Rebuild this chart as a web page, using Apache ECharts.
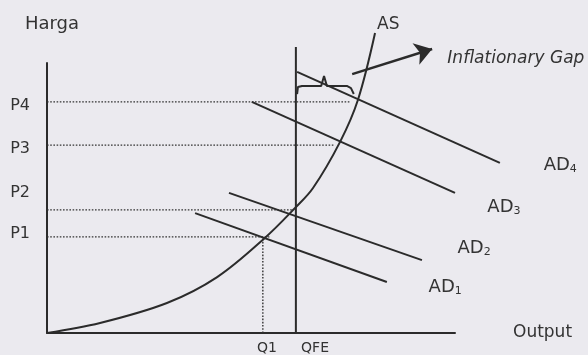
<!DOCTYPE html>
<html>
<head>
<meta charset="utf-8">
<script src="https://cdn.jsdelivr.net/npm/echarts@6/dist/echarts.min.js"></script>
<style>
  html, body { margin: 0; padding: 0; background: #ebeaef; }
  #main { width: 588px; height: 355px; }
</style>
</head>
<body>
<div id="main"></div>
<script>
// 价格水平 (P1..P4) 与产出 (Q1, QFE)
var priceNames = ['P1', 'P2', 'P3', 'P4'];
var priceLevels = [35.6, 45.6, 69.6, 85.6];
var priceDotEnd = [54.7, 60.0, 70.6, 74.5];
var priceLabelAt = [36.7, 51.9, 68.1, 84.1];

var outputNames = ['Q1', 'QFE'];
var outputLabelAt = [53.9, 65.7];
var q1Output = 52.9;
var qfeOutput = 61.0;
var qfeTop = 105.9;

// 总供给曲线 AS
var asCurve = [
    [0, 0], [13, 3.7], [29.4, 11.1], [41.7, 20.7], [53.4, 35.2],
    [60.8, 46.3], [65.2, 53.7], [71.8, 70.7], [76.2, 86.3], [80.4, 111.1]
];

// 总需求曲线 AD1..AD4 (起点, 终点)
var adNames = ['1', '2', '3', '4'];
var adLines = [
    [[36.3, 44.4], [83.3, 18.9]],
    [[44.6, 51.9], [91.9, 27.0]],
    [[50.2, 85.6], [100, 51.9]],
    [[61.3, 96.7], [111, 63]]
];
var adLabelAt = [[93.4, 17.0], [100.5, 31.5], [107.8, 46.7], [121.6, 62.2]];

// 通胀缺口括号与箭头
var gapBrace = [
    [61.3, 88.5], [61.5, 91.1], [62.5, 91.5], [67.2, 91.5], [67.9, 95.2],
    [68.6, 91.5], [73.5, 91.5], [74.5, 90.7], [75.2, 88.5]
];
var gapArrow = [[74.8, 95.9], [94.4, 105.2]];
var gapLabelAt = [98.0, 101.5];

var ink = '#2b2b2b';
var textColor = '#333';
var fontFamily = 'DejaVu Sans';

var oChart = echarts.init(document.getElementById('main'));

var aSeries = [];

// 虚线: 价格水平
priceLevels.forEach(function (p, i) {
    aSeries.push({
        type: 'line', silent: true, clip: false, symbol: 'none',
        lineStyle: { color: '#333', width: 1.4, type: [1.6, 1.6] },
        data: [[0, p], [priceDotEnd[i], p]]
    });
});

// 虚线: Q1
aSeries.push({
    type: 'line', silent: true, clip: false, symbol: 'none',
    lineStyle: { color: '#333', width: 1.4, type: [1.6, 1.6] },
    data: [[q1Output, 0], [q1Output, priceLevels[0]]]
});

// QFE 垂直线
aSeries.push({
    type: 'line', silent: true, clip: false, symbol: 'none',
    lineStyle: { color: ink, width: 2 },
    data: [[qfeOutput, 0], [qfeOutput, qfeTop]]
});

// AS
aSeries.push({
    type: 'line', silent: true, clip: false, symbol: 'none',
    smooth: 0.35,
    lineStyle: { color: ink, width: 2 },
    data: asCurve,
    endLabel: {
        show: true, formatter: 'AS', distance: 0, offset: [2, -8],
        color: textColor, fontFamily: fontFamily, fontSize: 17
    }
});

// AD1..AD4
aSeries.push({
    type: 'lines', coordinateSystem: 'cartesian2d', silent: true, clip: false,
    lineStyle: { color: ink, width: 2, opacity: 1 },
    data: adLines.map(function (seg) { return { coords: seg }; })
});

// 括号
aSeries.push({
    type: 'line', silent: true, clip: false, symbol: 'none',
    lineStyle: { color: ink, width: 2 },
    data: gapBrace
});

// 箭头
aSeries.push({
    type: 'lines', coordinateSystem: 'cartesian2d', silent: true, clip: false,
    symbol: ['none', 'arrow'], symbolSize: 17,
    lineStyle: { color: ink, width: 2.5, opacity: 1 },
    data: [{ coords: gapArrow }]
});

// 文字标注
var aNotes = adLabelAt.map(function (p, i) {
    return { value: p, label: { formatter: '{a|AD}{s|' + adNames[i] + '}' } };
});
aNotes.push({
    value: gapLabelAt,
    label: { formatter: '{g|Inflationary Gap}' }
});

aSeries.push({
    type: 'scatter', silent: true, clip: false,
    symbolSize: 1, itemStyle: { color: 'rgba(0,0,0,0)', opacity: 1 },
    label: {
        show: true, position: 'right', distance: 0, opacity: 1,
        rich: {
            a: { color: textColor, fontFamily: fontFamily, fontSize: 18, lineHeight: 20 },
            s: { color: textColor, fontFamily: fontFamily, fontSize: 11, lineHeight: 12, verticalAlign: 'bottom' },
            g: { color: textColor, fontFamily: fontFamily, fontSize: 17, fontStyle: 'italic' }
        }
    },
    data: aNotes
});

var oOpt = {
    backgroundColor: '#ebeaef',
    animation: false,
    grid: { left: 47, top: 63, right: 133, bottom: 22 },
    xAxis: {
        type: 'value', min: 0, max: 100,
        name: 'Output', nameLocation: 'end', nameGap: 58,
        nameTextStyle: { color: textColor, fontFamily: fontFamily, fontSize: 17, verticalAlign: 'middle' },
        axisLine: { lineStyle: { color: ink, width: 2 } },
        axisTick: { show: false },
        splitLine: { show: false },
        axisLabel: {
            customValues: outputLabelAt,
            margin: 8,
            color: textColor, fontFamily: fontFamily, fontSize: 14,
            formatter: function (v) {
                return outputNames[outputLabelAt.indexOf(v)] || '';
            }
        }
    },
    yAxis: {
        type: 'value', min: 0, max: 100,
        name: 'Harga', nameLocation: 'end', nameGap: 30,
        nameTextStyle: { color: textColor, fontFamily: fontFamily, fontSize: 18, padding: [0, 0, 0, 10] },
        axisLine: { lineStyle: { color: ink, width: 2 } },
        axisTick: { show: false },
        splitLine: { show: false },
        axisLabel: {
            customValues: priceLabelAt,
            margin: 17,
            color: textColor, fontFamily: fontFamily, fontSize: 16,
            formatter: function (v) {
                return priceNames[priceLabelAt.indexOf(v)] || '';
            }
        }
    },
    series: aSeries
};

oChart.setOption(oOpt);
</script>
</body>
</html>
